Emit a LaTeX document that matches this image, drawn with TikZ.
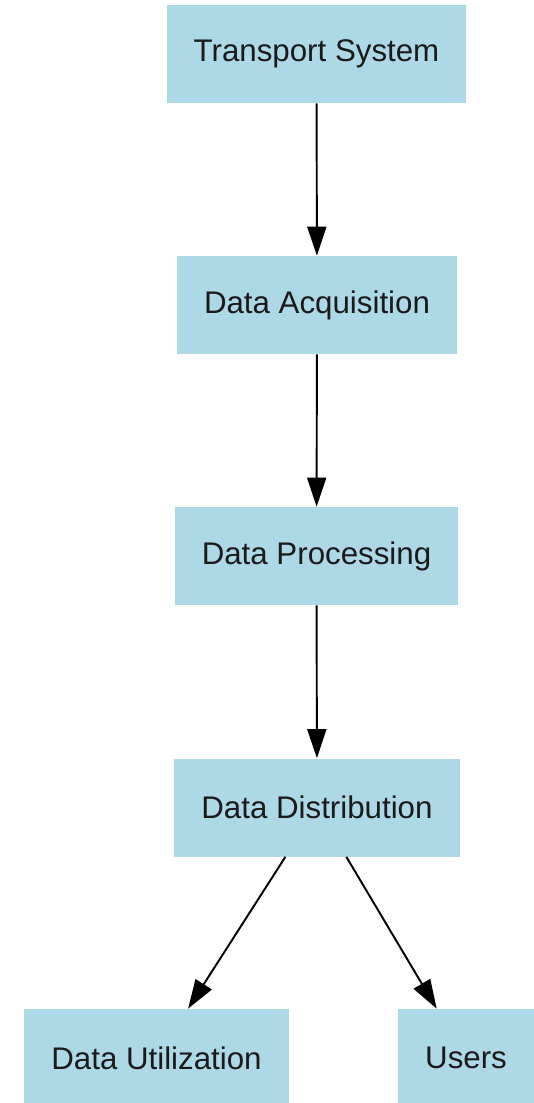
\documentclass[tikz,border=0pt]{standalone}
\usepackage{fontspec}
\setmainfont{Liberation Sans}
\usetikzlibrary{arrows.meta}
\definecolor{boxblue}{HTML}{ADD8E6}
\definecolor{ink}{HTML}{1A1A1A}

\tikzset{
  stage/.style={fill=boxblue, text=ink, inner xsep=0.54cm, inner ysep=0pt,
    minimum height=1.96cm, font=\fontsize{17.8}{21}\selectfont},
  flow/.style={line width=1.1pt, -{Triangle[length=0.58cm, width=0.38cm]}}
}

\begin{document}
\begin{tikzpicture}[x=0.02cm, y=-0.02cm]
  \useasboundingbox (0,0) rectangle (534,1103);
  \clip (0,0) rectangle (534,1103);
  % pipeline
  \node[stage] (transport) at (316.5,54)   {Transport System};
  \node[stage] (acq)       at (317,305)    {Data Acquisition};
  \node[stage] (proc)      at (316.5,556)  {Data Processing};
  \node[stage] (dist)      at (317,807.5)  {Data Distribution};
  \node[stage] (util)      at (156.5,1058) {Data Utilization};
  \node[stage] (users)     at (466,1058)   {Users};

  \draw[flow] (transport) -- (acq);
  \draw[flow] (acq) -- (proc);
  \draw[flow] (proc) -- (dist);
  \draw[flow] (dist) -- (util);
  \draw[flow] (dist) -- (users);
\end{tikzpicture}
\end{document}
